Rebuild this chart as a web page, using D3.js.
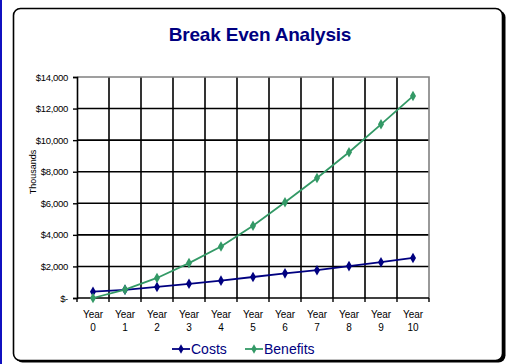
<!DOCTYPE html>
<html>
<head>
<meta charset="utf-8">
<script src="https://cdn.jsdelivr.net/npm/d3@7"></script>
<style>
  html, body { margin: 0; padding: 0; background: #fff; }
  svg { display: block; font-family: "Liberation Sans", Arial, sans-serif; }
</style>
</head>
<body>
<svg id="chart" width="510" height="364"></svg>
<script>
// Chart data
const years = ["Year 0", "Year 1", "Year 2", "Year 3", "Year 4", "Year 5",
               "Year 6", "Year 7", "Year 8", "Year 9", "Year 10"];
const costs = [400, 520, 700, 900, 1100, 1330, 1560, 1760, 2020, 2270, 2540];
const benefits = [0, 530, 1270, 2210, 3260, 4580, 6060, 7600, 9230, 11000, 12790];
const yTicks = [0, 2000, 4000, 6000, 8000, 10000, 12000, 14000];
const seriesNames = ["Costs", "Benefits"];
const seriesColors = ["#000080", "#339966"];

const svg = d3.select("#chart");

// Left accent bar and the rounded frame
svg.append("rect").attr("x", 0).attr("y", 0).attr("width", 2).attr("height", 364).attr("fill", "#1010c0");
svg.append("rect").attr("x", 15.5).attr("y", 10.5).attr("width", 490).attr("height", 352)
  .attr("rx", 7).attr("fill", "#000");
svg.append("rect").attr("x", 13.5).attr("y", 8.5).attr("width", 489).attr("height", 352)
  .attr("rx", 7).attr("fill", "#fff").attr("stroke", "#000").attr("stroke-width", 1.6);

// Title
svg.append("text").attr("x", 260).attr("y", 41).attr("text-anchor", "middle")
  .attr("font-size", 19).attr("font-weight", "bold").attr("fill", "#000080")
  .attr("letter-spacing", -0.2)
  .text("Break Even Analysis");

const plot = { left: 77, right: 429, top: 77, bottom: 298 };

const x = d3.scaleBand().domain(years).range([plot.left, plot.right]).paddingInner(0).paddingOuter(0);
const y = d3.scaleLinear().domain([0, 14000]).range([plot.bottom, plot.top]);

// Horizontal gridlines
svg.append("g").selectAll("line").data(yTicks.slice(1, -1)).join("line")
  .attr("x1", plot.left).attr("x2", plot.right)
  .attr("y1", d => y(d)).attr("y2", d => y(d))
  .attr("stroke", "#000").attr("stroke-width", 1.6);

// Vertical gridlines at category boundaries
svg.append("g").selectAll("line").data(years.slice(1)).join("line")
  .attr("x1", d => x(d)).attr("x2", d => x(d))
  .attr("y1", plot.top).attr("y2", plot.bottom)
  .attr("stroke", "#000").attr("stroke-width", 1.6);

// Plot border: grey top and right
svg.append("path")
  .attr("d", `M${plot.left},${plot.top}H${plot.right}V${plot.bottom}`)
  .attr("fill", "none").attr("stroke", "#808080").attr("stroke-width", 1.6);

// Y axis
const fmt = d => d === 0 ? "$-" : "$" + d3.format(",")(d);
const yAxis = svg.append("g").attr("transform", `translate(${plot.left},0)`)
  .call(d3.axisLeft(y).tickValues(yTicks).tickFormat(fmt).tickSize(4).tickPadding(4));
yAxis.select(".domain").attr("stroke", "#000").attr("stroke-width", 1.6);
yAxis.selectAll(".tick line").attr("stroke", "#000").attr("stroke-width", 1.4);
yAxis.selectAll(".tick text").attr("font-size", 9.5).attr("fill", "#000")
  .attr("font-family", "Liberation Sans, Arial, sans-serif").attr("dx", -1)
  .attr("letter-spacing", -0.3);

// X axis (ticks at category boundaries)
const boundaries = years.map(d => x(d)).concat([plot.right]);
const xAxisG = svg.append("g");
xAxisG.append("line").attr("x1", plot.left).attr("x2", plot.right)
  .attr("y1", plot.bottom).attr("y2", plot.bottom)
  .attr("stroke", "#000").attr("stroke-width", 1.6);
xAxisG.selectAll("line.tk").data(boundaries).join("line").attr("class", "tk")
  .attr("x1", d => d).attr("x2", d => d)
  .attr("y1", plot.bottom).attr("y2", plot.bottom + 4)
  .attr("stroke", "#000").attr("stroke-width", 1.4);
const xl = xAxisG.selectAll("text").data(years).join("text")
  .attr("x", d => x(d) + x.bandwidth() / 2)
  .attr("text-anchor", "middle").attr("font-size", 10).attr("fill", "#000");
xl.append("tspan").attr("x", d => x(d) + x.bandwidth() / 2).attr("y", 318).text(d => d.split(" ")[0]);
xl.append("tspan").attr("x", d => x(d) + x.bandwidth() / 2).attr("y", 331).text(d => d.split(" ")[1]);

// Axis title
svg.append("text").attr("transform", "translate(36,172) rotate(-90)")
  .attr("text-anchor", "middle").attr("font-size", 9).attr("fill", "#000")
  .text("Thousands");

// Series lines and diamond markers
const cx = d => x(d) + x.bandwidth() / 2;
const allSeries = [costs, benefits];
const line = d3.line().x((d, i) => cx(years[i])).y(d => y(d));
const diamond = d3.symbol().type(d3.symbolDiamond).size(32);

allSeries.forEach((vals, si) => {
  svg.append("path").datum(vals).attr("d", line)
    .attr("fill", "none").attr("stroke", seriesColors[si]).attr("stroke-width", 1.8);
  svg.append("g").selectAll("path").data(vals).join("path")
    .attr("d", diamond)
    .attr("transform", (d, i) => `translate(${cx(years[i])},${y(d)})`)
    .attr("fill", seriesColors[si]);
});

// Legend
const legendX = [172, 245];
seriesNames.forEach((name, si) => {
  const g = svg.append("g").attr("transform", `translate(${legendX[si]},349)`);
  g.append("line").attr("x1", 0).attr("x2", 18).attr("y1", 0).attr("y2", 0)
    .attr("stroke", seriesColors[si]).attr("stroke-width", 1.8);
  g.append("path").attr("d", d3.symbol().type(d3.symbolDiamond).size(26)).attr("transform", "translate(9,0)").attr("fill", seriesColors[si]);
  g.append("text").attr("x", 19).attr("y", 5).attr("font-size", 14).attr("fill", "#000080").text(name);
});
</script>
</body>
</html>
